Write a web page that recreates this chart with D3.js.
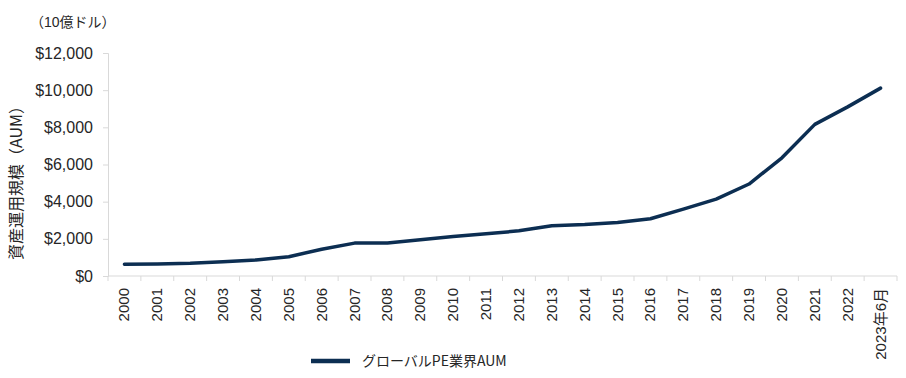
<!DOCTYPE html>
<html>
<head>
<meta charset="utf-8">
<title>グローバルPE業界AUM</title>
<script src="https://cdn.jsdelivr.net/npm/d3@7"></script>
<style>
  body { margin: 0; background: #fff; }
  svg text { font-family: "Liberation Sans", Arial, "Noto Sans CJK JP", sans-serif; fill: #262626; }
  svg text.cjk { font-family: "Noto Sans CJK JP", sans-serif; }
</style>
</head>
<body>
<script>
// categories + values (10億ドル)
var years = ["2000","2001","2002","2003","2004","2005","2006","2007","2008","2009",
             "2010","2011","2012","2013","2014","2015","2016","2017","2018","2019",
             "2020","2021","2022","2023年6月"];
var aum = [630, 650, 680, 770, 860, 1040, 1440, 1770, 1770, 1945,
           2125, 2270, 2430, 2700, 2770, 2880, 3080, 3600, 4140, 4950,
           6360, 8160, 9100, 10110];
var yTicks = [0, 2000, 4000, 6000, 8000, 10000, 12000];
var seriesName = "グローバルPE業界AUM";
var unitLabel = "（10億ドル）";
var yTitle = "資産運用規模（AUM）";

var width = 906, height = 378,
    margins = {top: 53, left: 108, right: 9, bottom: 102};

var svg = d3.select("body").append("svg")
    .attr("width", width)
    .attr("height", height);

var x = d3.scaleBand()
    .domain(years)
    .range([margins.left, width - margins.right]);

var y = d3.scaleLinear()
    .domain([0, 12000])
    .range([height - margins.bottom, margins.top]);

// y axis
var yAxis = d3.axisLeft(y)
    .tickValues(yTicks)
    .tickSize(5)
    .tickPadding(10)
    .tickFormat(function (d) { return "$" + d3.format(",")(d); });

var yG = svg.append("g")
    .attr("transform", "translate(" + margins.left + ",0)")
    .call(yAxis);
yG.selectAll("path, line").attr("stroke", "#d9d9d9");
yG.selectAll("text").style("font-size", "16px").attr("fill", "#262626");

// x axis - ticks on the band edges, labels rotated
var xG = svg.append("g")
    .attr("transform", "translate(0," + (height - margins.bottom) + ")");
xG.append("line")
    .attr("x1", margins.left).attr("x2", width - margins.right)
    .attr("stroke", "#d9d9d9");
xG.selectAll("line.tick")
    .data(years.concat([null]))
    .enter().append("line")
    .attr("class", "tick")
    .attr("x1", function (d, i) { return margins.left + i * x.bandwidth(); })
    .attr("x2", function (d, i) { return margins.left + i * x.bandwidth(); })
    .attr("y1", 0).attr("y2", 5)
    .attr("stroke", "#d9d9d9");
xG.selectAll("text")
    .data(years)
    .enter().append("text")
    .attr("transform", function (d) {
        return "translate(" + (x(d) + x.bandwidth() / 2 + 5) + ",12) rotate(-90)";
    })
    .attr("text-anchor", "end")
    .style("font-size", "15px")
    .text(function (d) { return d; });

// the line
var line = d3.line()
    .x(function (d, i) { return x(years[i]) + x.bandwidth() / 2; })
    .y(function (d) { return y(d); });

svg.append("path")
    .datum(aum)
    .attr("d", line)
    .attr("fill", "none")
    .attr("stroke", "#0c2e52")
    .attr("stroke-width", 3.5)
    .attr("stroke-linejoin", "round")
    .attr("stroke-linecap", "round");

// unit label + axis title
svg.append("text")
    .attr("x", 30).attr("y", 27)
    .style("font-size", "14px")
    .text(unitLabel);

svg.append("text")
    .attr("class", "cjk")
    .attr("transform", "translate(22,179) rotate(-90)")
    .attr("text-anchor", "middle")
    .style("font-size", "16px")
    .text(yTitle);

// legend
var legend = svg.append("g").attr("transform", "translate(311,361)");
legend.append("line")
    .attr("x1", 0).attr("x2", 39)
    .attr("stroke", "#0c2e52").attr("stroke-width", 4.5);
legend.append("text")
    .attr("class", "cjk")
    .attr("x", 51).attr("y", 5)
    .style("font-size", "14px")
    .text(seriesName);
</script>
</body>
</html>
